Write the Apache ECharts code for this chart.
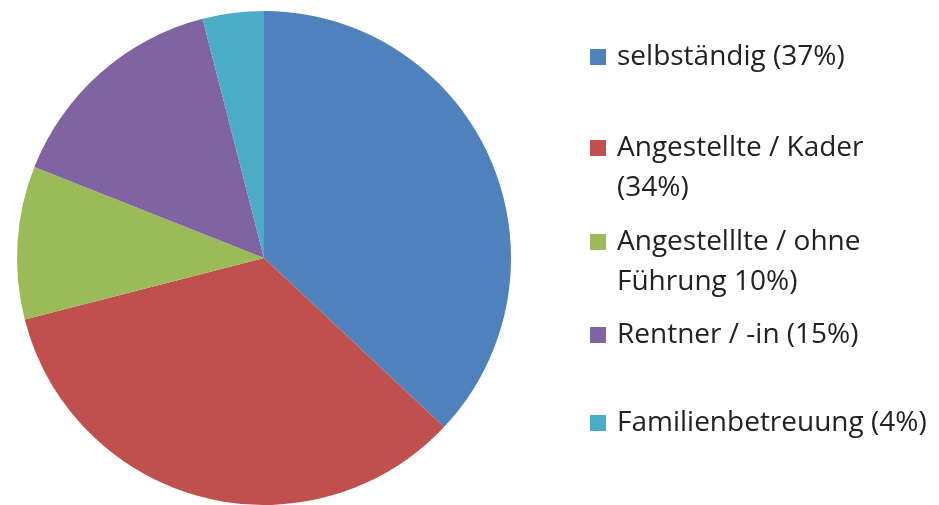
<!DOCTYPE html>
<html>
<head>
    <meta charset="UTF-8">
    <title>Pie</title>
    <script src="https://cdn.jsdelivr.net/npm/echarts@6/dist/echarts.min.js"></script>
    <style>
        html, body { margin: 0; padding: 0; background: #fff; }
        #main { width: 939px; height: 505px; }
    </style>
</head>
<body>
<div id="main"></div>
<script>
    // data
    var names = ['selbständig (37%)', 'Angestellte / Kader\n(34%)', 'Angestelllte / ohne\nFührung 10%)', 'Rentner / -in (15%)', 'Familienbetreuung (4%)'];
    var values = [37, 34, 10, 15, 4];
    var colors = ['#4F81BD', '#C0504D', '#9BBB59', '#8064A2', '#4BACC6'];
    var legendTops = [37, 128, 222, 315, 403];

    var chart = echarts.init(document.getElementById('main'));

    // one legend per entry, so the vertical spacing can follow the picture
    var legends = names.map(function (n, i) {
        var twoLines = n.indexOf('\n') >= 0;
        return {
            data: [n],
            left: 590,
            top: legendTops[i],
            padding: 0,
            orient: 'vertical',
            selectedMode: false,
            itemWidth: 22,
            itemHeight: twoLines ? 56 : 16,
            icon: twoLines ? 'path://M0,0H16V16H0Z M22,56L22,56.01' : 'path://M0,0H16V16H0Z M22,16L22,16.01',
            textStyle: {
                fontFamily: 'Open Sans',
                fontSize: 28,
                lineHeight: 40,
                color: '#222'
            }
        };
    });

    var option = {
        animation: false,
        color: colors,
        legend: legends,
        series: [{
            type: 'pie',
            center: [264, 258],
            radius: 247,
            startAngle: 90,
            clockwise: true,
            label: { show: false },
            labelLine: { show: false },
            emphasis: { disabled: true },
            data: names.map(function (n, i) { return { name: n, value: values[i] }; })
        }]
    };
    chart.setOption(option);
</script>
</body>
</html>
